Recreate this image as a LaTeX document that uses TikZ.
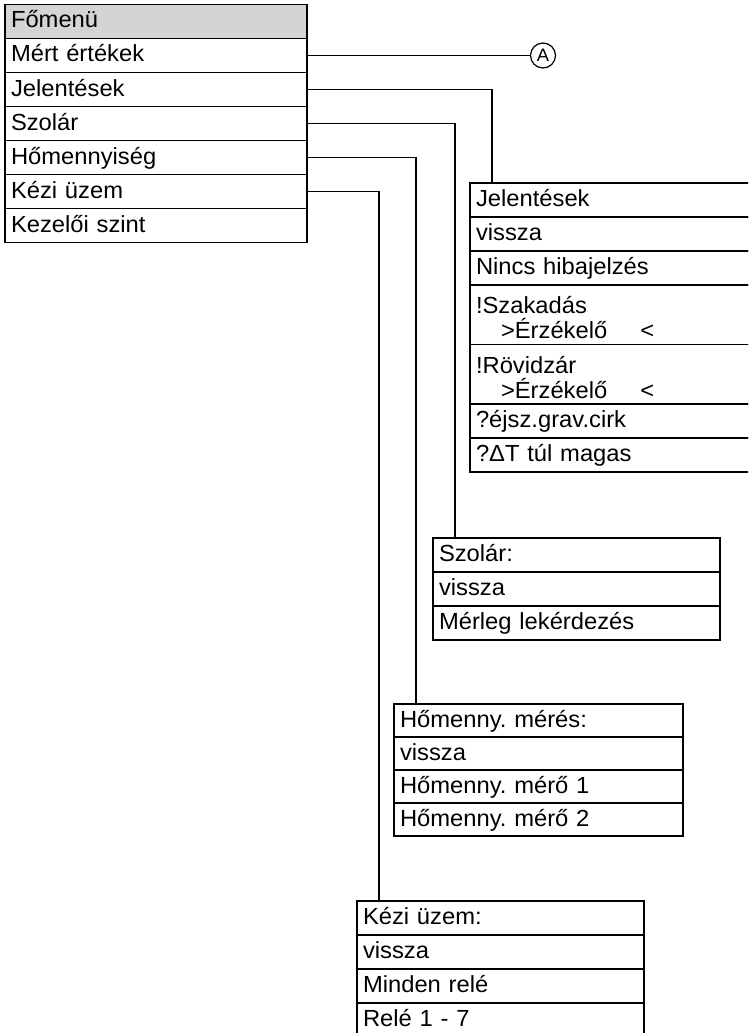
\documentclass[tikz,border=0pt]{standalone}
\usepackage{fontspec}
\setmainfont[FakeStretch=1.02]{Liberation Sans}
\usetikzlibrary{positioning}
\definecolor{headgray}{gray}{0.83}
\frenchspacing

\begin{document}
\begin{tikzpicture}[
    x=1pt, y=-1pt,
    every node/.style={font=\fontsize{23.3}{23}\selectfont},
    item/.style={draw, line width=1.5pt, outer sep=0pt, inner xsep=6pt, inner ysep=0pt,
      minimum height=34pt, text height=17pt, text depth=4pt, align=left},
    tall/.style={item, minimum height=59.5pt, text height=21pt, text depth=23pt},
    link/.style={draw, line width=1.2pt}
  ]
    \useasboundingbox (0,0) rectangle (748,1033);
    \clip (0,0) rectangle (748,1033);

    % Main menu
    \node[item, text width=290pt, fill=headgray, anchor=north west] (m0) at (5,4.5) {Főmenü};
    \node[item, text width=290pt, below=0pt of m0] (m1) {Mért értékek};
    \node[item, text width=290pt, below=0pt of m1] (m2) {Jelentések};
    \node[item, text width=290pt, below=0pt of m2] (m3) {Szolár};
    \node[item, text width=290pt, below=0pt of m3] (m4) {Hőmennyiség};
    \node[item, text width=290pt, below=0pt of m4] (m5) {Kézi üzem};
    \node[item, text width=290pt, below=0pt of m5] (m6) {Kezelői szint};

    % Reference mark
    \node[draw, circle, line width=1.2pt, minimum size=25pt, inner sep=0pt,
      font=\fontsize{18}{18}\selectfont] (A) at (543,55.5) {A};

    % Jelentések submenu
    \node[item, text width=278pt, anchor=north west] (j0) at (470,183) {Jelentések};
    \node[item, text width=278pt, below=0pt of j0] (j1) {vissza};
    \node[item, text width=278pt, below=0pt of j1] (j2) {Nincs hibajelzés};
    \node[tall, text width=278pt, below=0pt of j2] (j3) {!Szakadás\\[2pt]\hspace*{25pt}>Érzékelő\hspace{33pt}<};
    \node[tall, text width=278pt, below=0pt of j3] (j4) {!Rövidzár\\[2pt]\hspace*{25pt}>Érzékelő\hspace{33pt}<};
    \node[item, text width=278pt, below=0pt of j4] (j5) {?éjsz.grav.cirk};
    \node[item, text width=278pt, below=0pt of j5] (j6) {?ΔT túl magas};

    % Szolár submenu
    \node[item, text width=275pt, anchor=north west] (s0) at (433,538) {Szolár:};
    \node[item, text width=275pt, below=0pt of s0] (s1) {vissza};
    \node[item, text width=275pt, below=0pt of s1] (s2) {Mérleg lekérdezés};

    % Hőmennyiség submenu
    \node[item, text width=277pt, minimum height=33pt, anchor=north west] (h0) at (394,704) {Hőmenny. mérés:};
    \node[item, text width=277pt, minimum height=33pt, below=0pt of h0] (h1) {vissza};
    \node[item, text width=277pt, minimum height=33pt, below=0pt of h1] (h2) {Hőmenny. mérő 1};
    \node[item, text width=277pt, minimum height=33pt, below=0pt of h2] (h3) {Hőmenny. mérő 2};

    % Kézi üzem submenu
    \node[item, text width=275pt, anchor=north west] (k0) at (357,901) {Kézi üzem:};
    \node[item, text width=275pt, below=0pt of k0] (k1) {vissza};
    \node[item, text width=275pt, below=0pt of k1] (k2) {Minden relé};
    \node[item, text width=275pt, below=0pt of k2] (k3) {Relé 1 - 7};

    % Connections
    \draw[link] (m1.east) -- (A.west);
    \draw[link] (m2.east) -| ([xshift=22pt]j0.north west);
    \draw[link] (m3.east) -| ([xshift=22pt]s0.north west);
    \draw[link] (m4.east) -| ([xshift=22pt]h0.north west);
    \draw[link] (m5.east) -| ([xshift=22pt]k0.north west);
  \end{tikzpicture}
\end{document}
